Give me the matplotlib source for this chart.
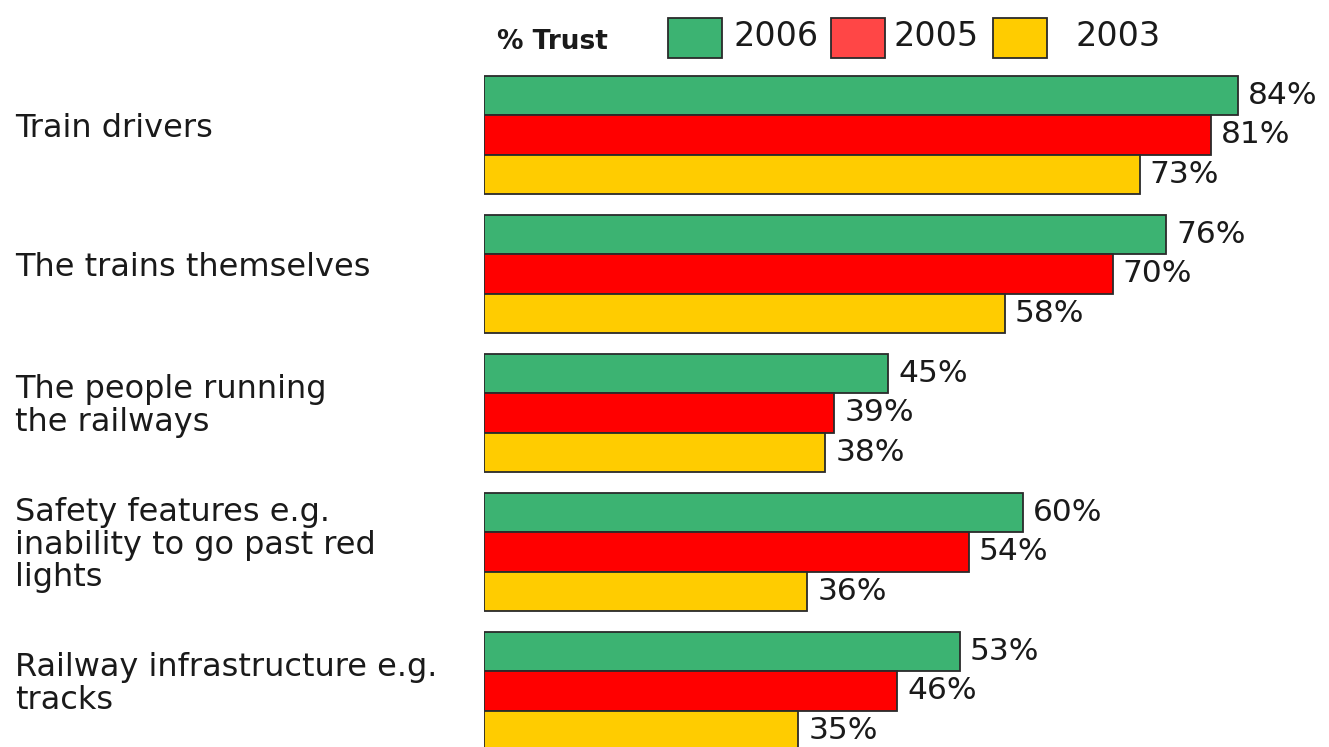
import matplotlib
matplotlib.use("Agg")
import matplotlib.pyplot as plt
from matplotlib.patches import Rectangle
import numpy as np

# Survey results: share of respondents who trust each aspect of rail safety
categories = [
    "Train drivers",
    "The trains themselves",
    "The people running\nthe railways",
    "Safety features e.g.\ninability to go past red\nlights",
    "Railway infrastructure e.g.\ntracks",
]
years = ["2006", "2005", "2003"]
trust_2006 = [84, 76, 45, 60, 53]
trust_2005 = [81, 70, 39, 54, 46]
trust_2003 = [73, 58, 38, 36, 35]

bar_colors = ["#3cb372", "#ff0000", "#ffcc00"]
legend_colors = ["#3cb372", "#ff4646", "#ffcc00"]
text_color = "#1a1a1a"

plt.rcParams["font.family"] = ["DejaVu Sans"]

W, H, DPI = 1329, 747, 100
fig = plt.figure(figsize=(W / DPI, H / DPI), dpi=DPI, facecolor="white")

# Plot area: bars start at the left edge of the axes, axes fill the rest
ax_left = 484 / W
ax = fig.add_axes([ax_left, 0.0, 1.0 - ax_left, 1.0])
ax.set_xlim(0, 94.1)
ax.set_ylim(4.403, -0.971)
ax.axis("off")

bar_h = 0.283
series = [trust_2006, trust_2005, trust_2003]
idx = np.arange(len(categories))
for k, (vals, col) in enumerate(zip(series, bar_colors)):
    ypos = idx + (k - 1) * bar_h
    ax.barh(ypos, vals, height=bar_h, color=col, edgecolor="#2a2a2a",
            linewidth=1.3, clip_on=True)
    for y, v in zip(ypos, vals):
        ax.annotate(f"{v}%", xy=(v, y), xytext=(10, 0),
                    textcoords="offset pixels", va="center", ha="left",
                    fontsize=22.5, color=text_color, annotation_clip=False)

# Category labels on the left
trans = matplotlib.transforms.blended_transform_factory(fig.transFigure, ax.transData)
for i, cat in enumerate(categories):
    ax.text(15 / W, i - 0.05, cat, transform=trans, ha="left", va="center",
            fontsize=23, color=text_color, linespacing=1.05)

# Legend row across the top
def fx(px):
    return px / W

def fy(py):
    return 1 - py / H

fig.text(fx(497), fy(42), "% Trust", fontsize=19, fontweight="bold",
         color=text_color, ha="left", va="center")
patch_x = [668, 831, 993]
label_x = [733, 893, 1075]
for px, lx, col, yr in zip(patch_x, label_x, legend_colors, years):
    fig.add_artist(Rectangle((fx(px), fy(58)), 54 / W, 40 / H,
                             transform=fig.transFigure, facecolor=col,
                             edgecolor="#2a2a2a", linewidth=1.3))
    fig.text(fx(lx), fy(36), yr, fontsize=24, color=text_color,
             ha="left", va="center")

fig.savefig("out.png", dpi=DPI, facecolor="white")
